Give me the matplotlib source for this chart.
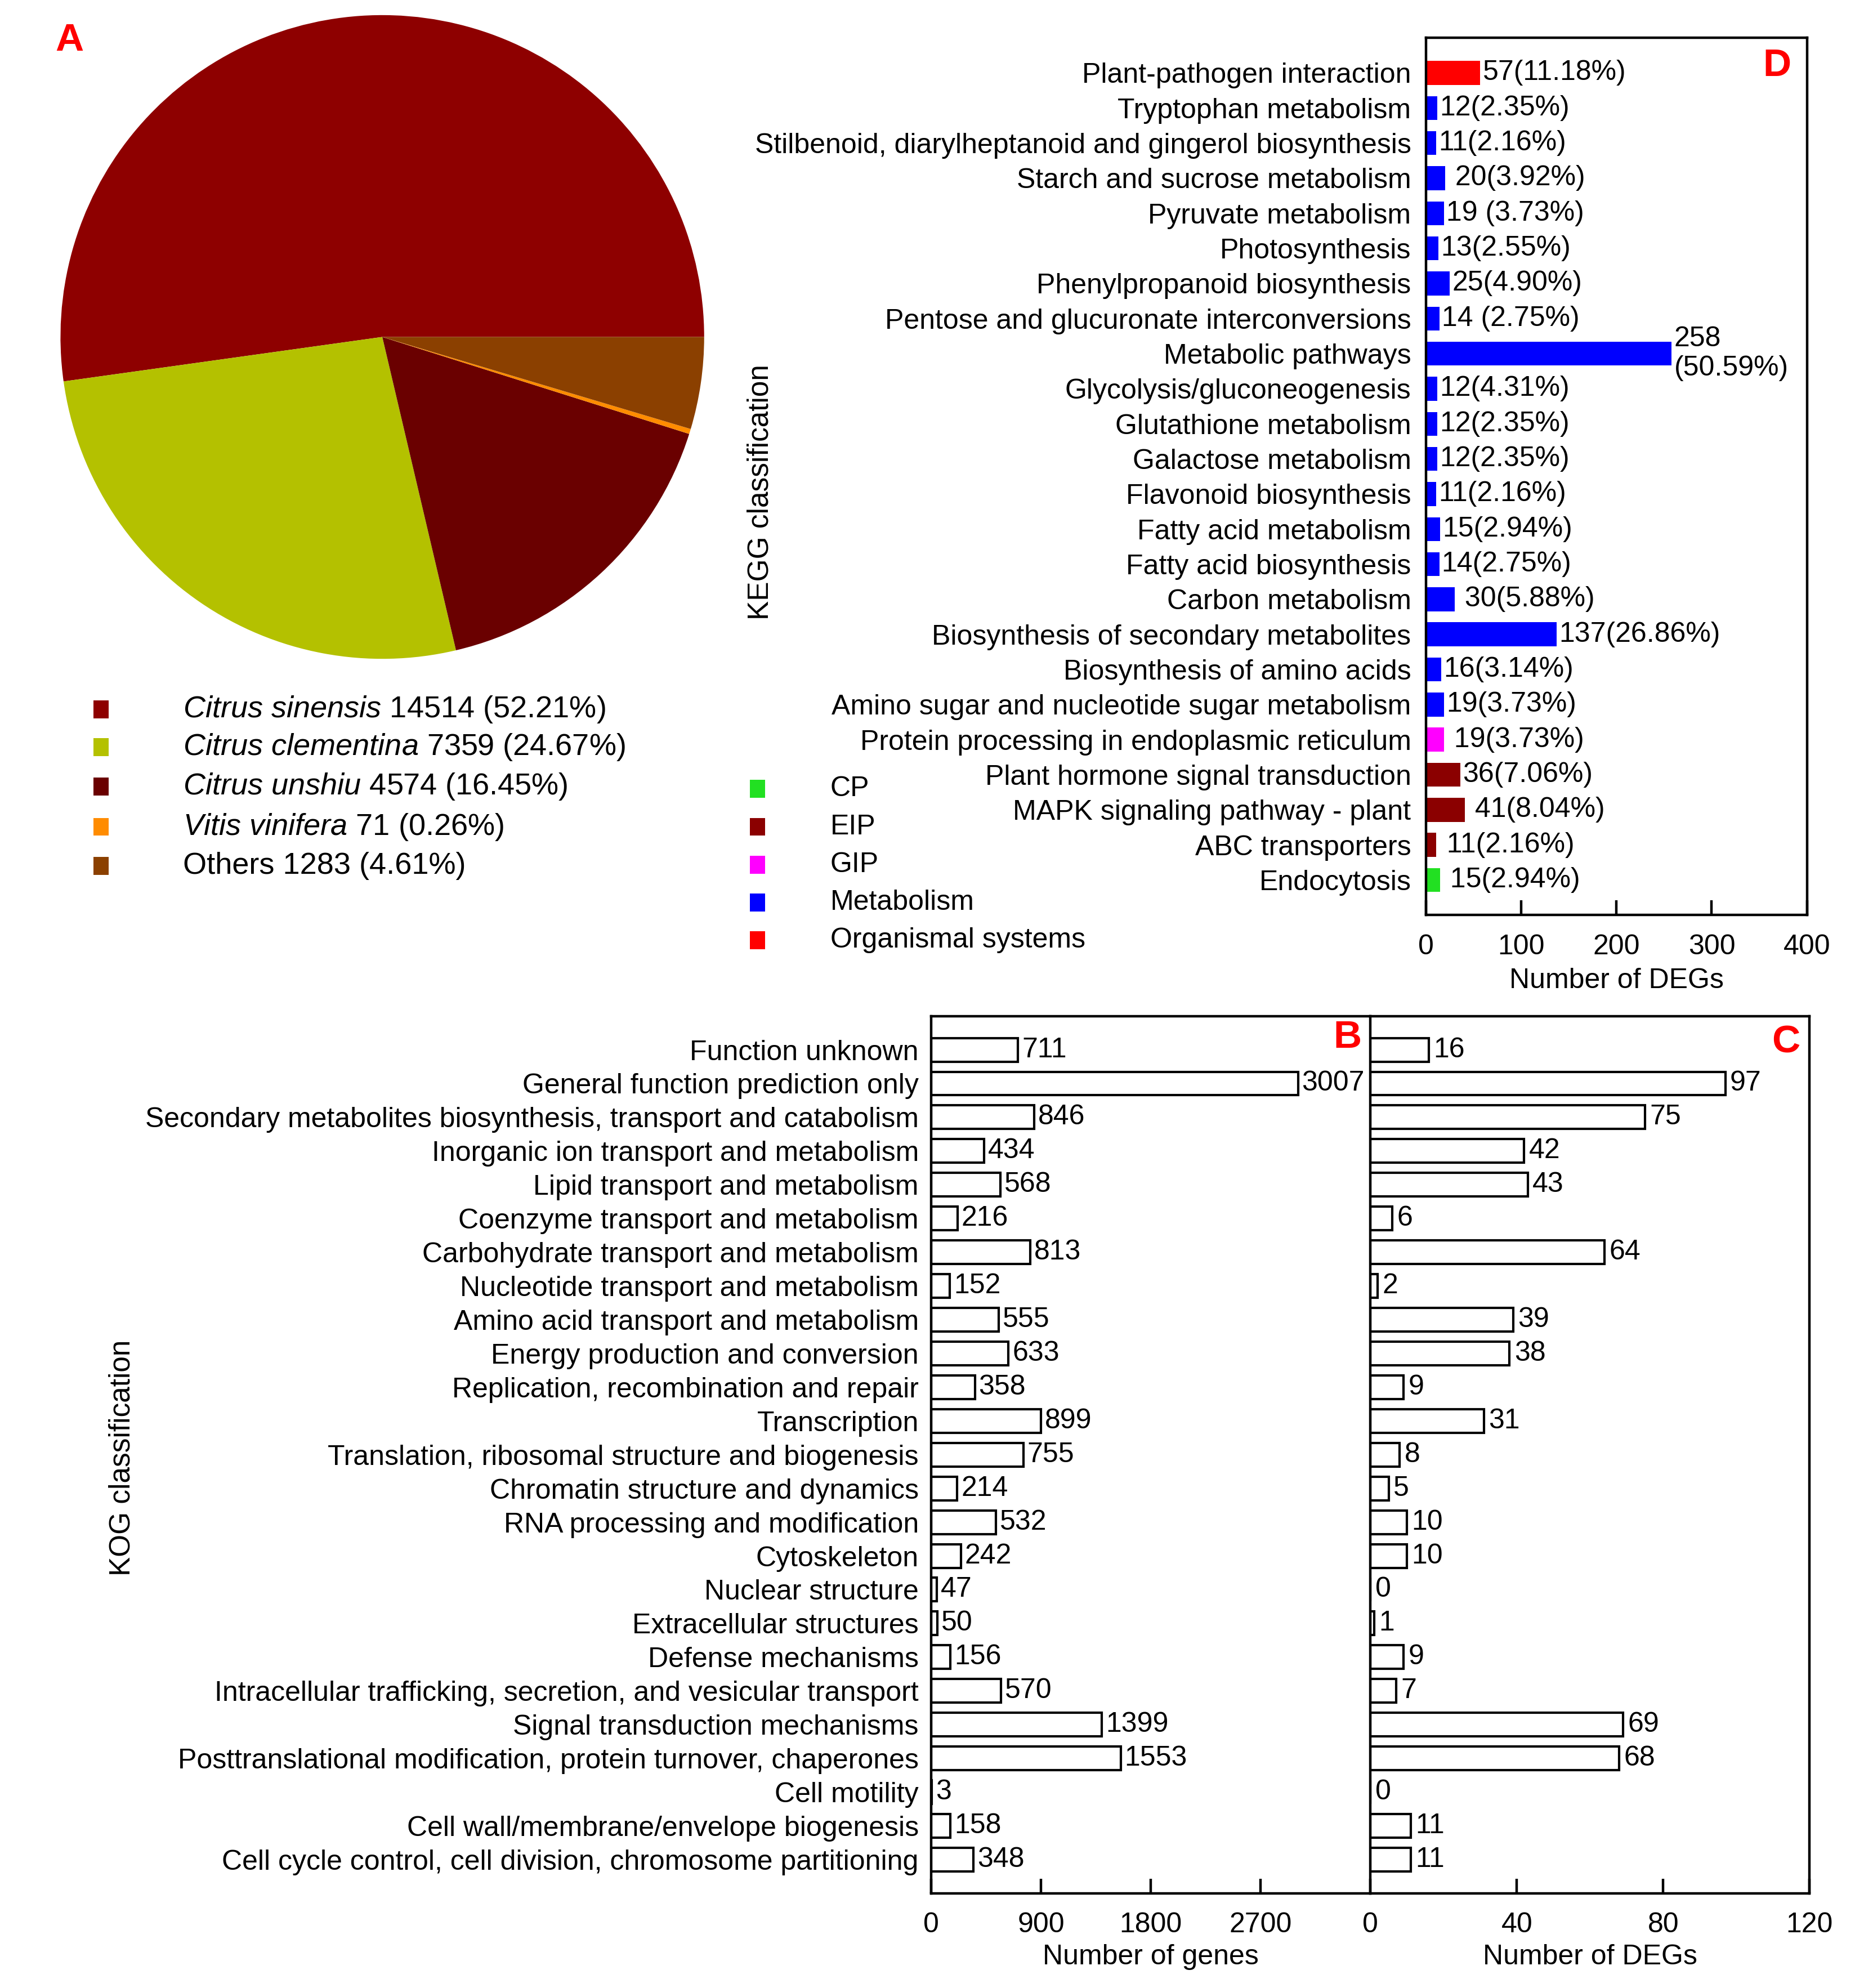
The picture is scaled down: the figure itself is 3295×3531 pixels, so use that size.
import matplotlib
matplotlib.use("Agg")
import matplotlib.pyplot as plt
from matplotlib.patches import Rectangle

plt.rcParams['font.family'] = ['Liberation Sans', 'DejaVu Sans']
plt.rcParams['mathtext.fontset'] = 'custom'
plt.rcParams['mathtext.rm'] = 'Liberation Sans'
plt.rcParams['mathtext.it'] = 'Liberation Sans:italic'

# ---------------- Data ----------------
pie_species = ["Citrus sinensis", "Citrus clementina", "Citrus unshiu", "Vitis vinifera", "Others"]
pie_italic = [True, True, True, True, False]
pie_counts = [14514, 7359, 4574, 71, 1283]
pie_pcts = ["52.21%", "24.67%", "16.45%", "0.26%", "4.61%"]
pie_colors = ["#8E0000", "#B4C100", "#6A0000", "#FF8C00", "#8B4000"]

kegg_terms = [
    "Plant-pathogen interaction", "Tryptophan metabolism",
    "Stilbenoid, diarylheptanoid and gingerol biosynthesis",
    "Starch and sucrose metabolism", "Pyruvate metabolism", "Photosynthesis",
    "Phenylpropanoid biosynthesis", "Pentose and glucuronate interconversions",
    "Metabolic pathways", "Glycolysis/gluconeogenesis", "Glutathione metabolism",
    "Galactose metabolism", "Flavonoid biosynthesis", "Fatty acid metabolism",
    "Fatty acid biosynthesis", "Carbon metabolism",
    "Biosynthesis of secondary metabolites", "Biosynthesis of amino acids",
    "Amino sugar and nucleotide sugar metabolism",
    "Protein processing in endoplasmic reticulum",
    "Plant hormone signal transduction", "MAPK signaling pathway - plant",
    "ABC transporters", "Endocytosis",
]
kegg_counts = [57, 12, 11, 20, 19, 13, 25, 14, 258, 12, 12, 12, 11, 15, 14, 30,
               137, 16, 19, 19, 36, 41, 11, 15]
kegg_labels = ["57(11.18%)", "12(2.35%)", "11(2.16%)", " 20(3.92%)", "19 (3.73%)",
               "13(2.55%)", "25(4.90%)", "14 (2.75%)", "258\n(50.59%)", "12(4.31%)",
               "12(2.35%)", "12(2.35%)", "11(2.16%)", "15(2.94%)", "14(2.75%)",
               " 30(5.88%)", "137(26.86%)", "16(3.14%)", "19(3.73%)", " 19(3.73%)",
               "36(7.06%)", " 41(8.04%)", " 11(2.16%)", " 15(2.94%)"]
kegg_class = ["Organismal systems"] + ["Metabolism"] * 18 + ["GIP"] + ["EIP"] * 3 + ["CP"]
class_names = ["CP", "EIP", "GIP", "Metabolism", "Organismal systems"]
class_colors = {"CP": "#22E022", "EIP": "#8B0000", "GIP": "#FF00FF",
                "Metabolism": "#0000FF", "Organismal systems": "#FF0000"}

kog_terms = [
    "Function unknown", "General function prediction only",
    "Secondary metabolites biosynthesis, transport and catabolism",
    "Inorganic ion transport and metabolism", "Lipid transport and metabolism",
    "Coenzyme transport and metabolism", "Carbohydrate transport and metabolism",
    "Nucleotide transport and metabolism", "Amino acid transport and metabolism",
    "Energy production and conversion", "Replication, recombination and repair",
    "Transcription", "Translation, ribosomal structure and biogenesis",
    "Chromatin structure and dynamics", "RNA processing and modification",
    "Cytoskeleton", "Nuclear structure", "Extracellular structures",
    "Defense mechanisms",
    "Intracellular trafficking, secretion, and vesicular transport",
    "Signal transduction mechanisms",
    "Posttranslational modification, protein turnover, chaperones",
    "Cell motility", "Cell wall/membrane/envelope biogenesis",
    "Cell cycle control, cell division, chromosome partitioning",
]
kog_genes = [711, 3007, 846, 434, 568, 216, 813, 152, 555, 633, 358, 899, 755, 214,
             532, 242, 47, 50, 156, 570, 1399, 1553, 3, 158, 348]
kog_degs = [16, 97, 75, 42, 43, 6, 64, 2, 39, 38, 9, 31, 8, 5, 10, 10, 0, 1, 9, 7,
            69, 68, 0, 11, 11]

b_ticks = [0, 900, 1800, 2700]
c_ticks = [0, 40, 80, 120]
d_ticks = [0, 100, 200, 300, 400]

# ---------------- Figure ----------------
fig = plt.figure(figsize=(32.95, 35.31), dpi=100)
FS = 36
LW = 3.2
EW = 3.0
PAD = 24

# Panel A: pie
axA = fig.add_axes([0.0326, 0.6686, 0.347, 0.3238])
axA.pie(pie_counts, colors=pie_colors, startangle=0, counterclock=True,
        wedgeprops=dict(linewidth=0))
axA.set_xlim(-1.0, 1.0)
axA.set_ylim(-1.0, 1.0)
axA.axis('off')

fig.text(0.0374, 0.9797, "A", color="#FF0000", fontsize=50, fontweight='bold',
         ha='center', va='center')

leg_y = [0.6432, 0.6241, 0.6044, 0.5841, 0.5644]
for i, (name, it, cnt, pct, col) in enumerate(zip(pie_species, pie_italic, pie_counts,
                                                  pie_pcts, pie_colors)):
    fig.patches.append(Rectangle((0.0544 - 0.0041, leg_y[i] - 0.0045), 0.0082, 0.009,
                                 transform=fig.transFigure, facecolor=col,
                                 edgecolor='none'))
    if it:
        nm = r"$\it{" + name.replace(" ", r"\ ") + "}$"
    else:
        nm = name
    fig.text(0.0986, leg_y[i], f"{nm} {cnt} ({pct})",
             fontsize=39, ha='left', va='center')

# Panel D: KEGG
axD = fig.add_axes([0.7687, 0.5397, 0.2054, 0.4413])
yD = list(range(len(kegg_terms)))
axD.barh(yD, kegg_counts, height=0.68,
         color=[class_colors[c] for c in kegg_class], linewidth=0)
axD.set_ylim(len(kegg_terms), -1)
axD.set_xlim(0, 400)
axD.set_yticks(yD)
axD.set_yticklabels(kegg_terms, fontsize=FS)
axD.tick_params(axis='y', length=0, pad=19)
axD.set_xticks(d_ticks)
axD.set_xticklabels([str(t) for t in d_ticks], fontsize=FS)
axD.tick_params(axis='x', direction='in', length=19, width=LW, pad=PAD)
for s in axD.spines.values():
    s.set_linewidth(LW)
for y, v, lab in zip(yD, kegg_counts, kegg_labels):
    axD.annotate(lab, (v, y), xytext=(3, 0), textcoords='offset points',
                 ha='left', va='center', fontsize=FS, linespacing=1.15)
axD.set_xlabel("Number of DEGs", fontsize=FS, labelpad=10)
fig.text(0.9578, 0.967, "D", color="#FF0000", fontsize=50, fontweight='bold',
         ha='center', va='center')
fig.text(0.410, 0.7524, "KEGG classification", fontsize=37, rotation=90,
         ha='center', va='center')

dleg_y = [0.6032, 0.5841, 0.5651, 0.5460, 0.5270]
for i, cn in enumerate(class_names):
    fig.patches.append(Rectangle((0.4082 - 0.0041, dleg_y[i] - 0.0045), 0.0082, 0.009,
                                 transform=fig.transFigure,
                                 facecolor=class_colors[cn], edgecolor='none'))
    fig.text(0.4476, dleg_y[i], cn, fontsize=FS, ha='left', va='center')

# Panel B and C: KOG
axB = fig.add_axes([0.5020, 0.04762, 0.2367, 0.4413])
axC = fig.add_axes([0.7388, 0.04762, 0.2367, 0.4413])
yK = list(range(len(kog_terms)))

axB.barh(yK, kog_genes, height=0.7, facecolor='white', edgecolor='black',
         linewidth=EW)
axB.set_xlim(0, 3600)
axB.set_ylim(len(kog_terms), -1)
axB.set_yticks(yK)
axB.set_yticklabels(kog_terms, fontsize=FS)
axB.tick_params(axis='y', length=0, pad=16)
axB.set_xticks(b_ticks)
axB.set_xticklabels([str(t) for t in b_ticks], fontsize=FS)
axB.tick_params(axis='x', direction='in', length=19, width=LW, pad=PAD)
axB.spines['right'].set_visible(False)
for k in ['left', 'top', 'bottom']:
    axB.spines[k].set_linewidth(LW)
for y, v in zip(yK, kog_genes):
    axB.annotate(str(v), (v, y), xytext=(5, 0), textcoords='offset points',
                 ha='left', va='center', fontsize=FS)
axB.set_xlabel("Number of genes", fontsize=FS, labelpad=8)

axC.barh(yK, kog_degs, height=0.7, facecolor='white', edgecolor='black',
         linewidth=EW)
axC.set_xlim(0, 120)
axC.set_ylim(len(kog_terms), -1)
axC.set_yticks([])
axC.set_xticks(c_ticks)
axC.set_xticklabels([str(t) for t in c_ticks], fontsize=FS)
axC.tick_params(axis='x', direction='in', length=19, width=LW, pad=PAD)
for s in axC.spines.values():
    s.set_linewidth(LW)
for y, v in zip(yK, kog_degs):
    axC.annotate(str(v), (v, y), xytext=(6, 0), textcoords='offset points',
                 ha='left', va='center', fontsize=FS)
axC.set_xlabel("Number of DEGs", fontsize=FS, labelpad=8)

fig.text(0.7265, 0.4781, "B", color="#FF0000", fontsize=50, fontweight='bold',
         ha='center', va='center')
fig.text(0.9626, 0.4756, "C", color="#FF0000", fontsize=50, fontweight='bold',
         ha='center', va='center')
fig.text(0.066, 0.2667, "KOG classification", fontsize=37, rotation=90,
         ha='center', va='center')

fig.savefig("out.png", dpi=100, facecolor='white')
